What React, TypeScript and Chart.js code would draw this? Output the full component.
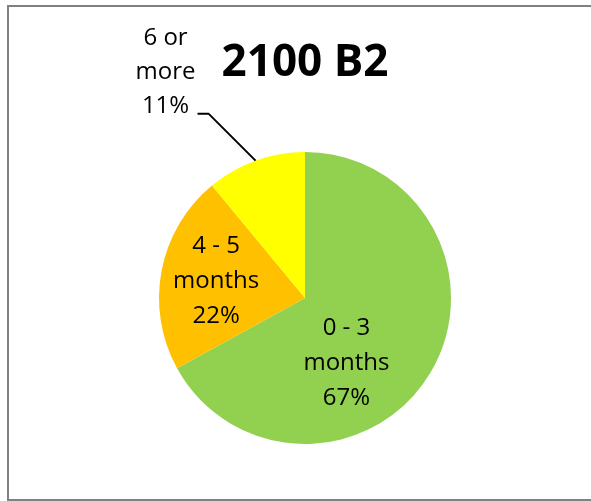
import React, { useEffect, useRef } from "react";
import { Chart, registerables } from "chart.js";

Chart.register(...registerables);

const title = "2100 B2";
const categories = ["0 - 3 months", "4 - 5 months", "6 or more"];
const labelLines = [["0 - 3", "months"], ["4 - 5", "months"], ["6 or", "more"]];
const values = [67, 22, 11];
const colors = ["#92D050", "#FFC000", "#FFFF00"];

// label placement style: [angle offset from slice mid (deg), radius fraction] for inside labels; null = outside
const inside = [
  { dAngle: 27, rFrac: 0.53 },
  { dAngle: 0, rFrac: 0.62 },
  null,
];

const labelFont = "24px 'Open Sans'";
const lineGap = 35;

const labelPlugin = {
  id: "pieLabels",
  afterDraw(chart: any) {
    const ctx = chart.ctx;
    const meta = chart.getDatasetMeta(0);
    ctx.save();
    // title
    ctx.fillStyle = "#000";
    ctx.font = "bold 44px 'Open Sans'";
    ctx.textAlign = "center";
    ctx.textBaseline = "alphabetic";
    const a0: any = meta.data[0];
    ctx.fillText(title, a0.x, 76);

    ctx.font = labelFont;
    ctx.textBaseline = "middle";
    meta.data.forEach((arc: any, i: number) => {
      const lines = [...labelLines[i], values[i] + "%"];
      const mid = (arc.startAngle + arc.endAngle) / 2;
      const r = arc.outerRadius;
      const pos = inside[i];
      if (pos) {
        const ang = mid + (pos.dAngle * Math.PI) / 180;
        const cx = arc.x + Math.cos(ang) * r * pos.rFrac;
        const cy = arc.y + Math.sin(ang) * r * pos.rFrac;
        lines.forEach((t, k) => {
          ctx.fillText(t, cx, cy + (k - 1) * lineGap);
        });
      } else {
        const ex = arc.x + Math.cos(mid) * r;
        const ey = arc.y + Math.sin(mid) * r;
        const elbowX = ex - 47;
        const elbowY = ey - 47;
        ctx.strokeStyle = "#000";
        ctx.lineWidth = 2;
        ctx.beginPath();
        ctx.moveTo(ex, ey);
        ctx.lineTo(elbowX, elbowY);
        ctx.lineTo(elbowX - 11, elbowY);
        ctx.stroke();
        const cx = elbowX - 43;
        const lastY = elbowY - 7;
        lines.forEach((t, k) => {
          ctx.fillText(t, cx, lastY - (2 - k) * 34);
        });
      }
    });
    ctx.restore();
  },
};

export default function App() {
  const ref = useRef<HTMLCanvasElement>(null);
  useEffect(() => {
    const chart = new Chart(ref.current!, {
      type: "pie",
      data: {
        labels: categories,
        datasets: [
          {
            data: values,
            backgroundColor: colors,
            borderWidth: 0,
          },
        ],
      },
      options: {
        responsive: false,
        animation: false,
        layout: { padding: { left: 159, right: 140, top: 152, bottom: 57 } },
        plugins: {
          legend: { display: false },
          tooltip: { enabled: false },
          title: { display: false },
        },
      },
      plugins: [labelPlugin],
    });
    return () => chart.destroy();
  }, []);
  return (
    <div
      style={{
        position: "absolute",
        left: 0,
        top: 0,
        width: 591,
        height: 501,
        overflow: "hidden",
        background: "#fff",
      }}
    >
      <canvas ref={ref} width={591} height={501} style={{ position: "absolute", left: 0, top: 0 }} />
      <div
        style={{
          position: "absolute",
          left: 7,
          top: 5,
          width: 700,
          height: 496,
          boxSizing: "border-box",
          border: "2px solid #808080",
          pointerEvents: "none",
        }}
      />
    </div>
  );
}
